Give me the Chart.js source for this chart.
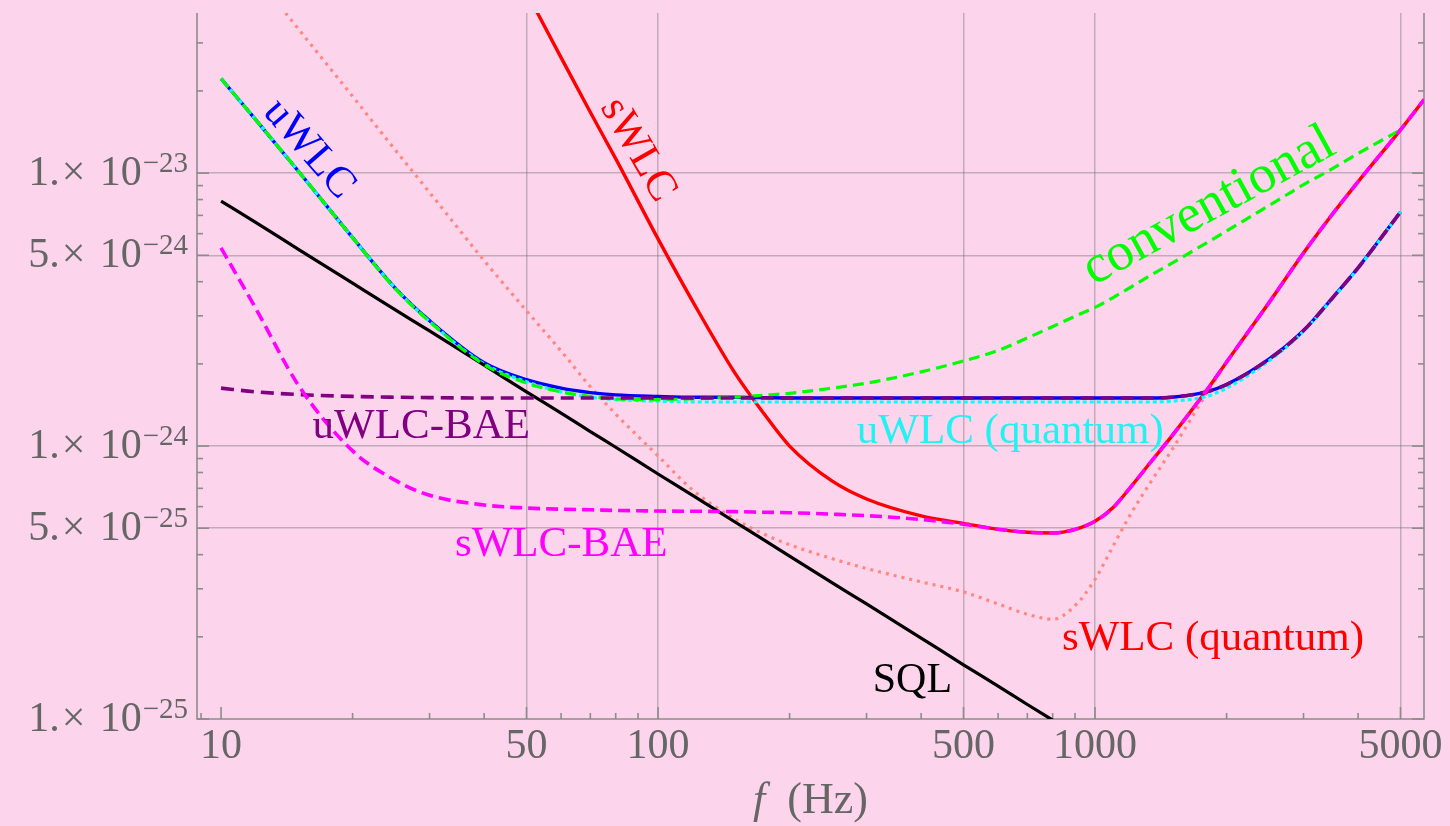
<!DOCTYPE html>
<html>
<head>
<meta charset="utf-8">
<script src="https://cdn.jsdelivr.net/npm/chart.js@4.4.1/dist/chart.umd.min.js"></script>
<style>
  html, body { margin: 0; padding: 0; background: #fcd5ec; }
  canvas { display: block; }
</style>
</head>
<body>
<canvas id="myChart" width="1450" height="826"></canvas>
<script>
// frequencies (Hz) at which the curves were read
var freqs = [10, 12, 15, 20, 25, 30, 40, 50, 60, 70, 80, 100, 120, 150, 175, 200, 250, 300, 400, 500, 600,
             700, 800, 900, 1000, 1100, 1200, 1350, 1500, 1800, 2000, 2500, 3000, 3500, 4000, 5000, 5663];

var uwlc = [2.22e-23, 1.57e-23, 1.02e-23, 5.8e-24, 3.8e-24, 2.88e-24, 2.02e-24, 1.75e-24, 1.63e-24, 1.57e-24,
            1.54e-24, 1.52e-24, 1.51e-24, 1.51e-24, 1.505e-24, 1.50e-24, 1.50e-24, 1.50e-24, 1.50e-24, 1.50e-24,
            1.50e-24, 1.50e-24, 1.50e-24, 1.50e-24, 1.50e-24, 1.50e-24, 1.50e-24, 1.50e-24, 1.51e-24, 1.58e-24,
            1.68e-24, 2.08e-24, 2.65e-24, 3.5e-24, 4.5e-24, 7.2e-24, null];

var uwlcQuantum = [2.22e-23, 1.57e-23, 1.02e-23, 5.8e-24, 3.8e-24, 2.86e-24, 2.0e-24, 1.72e-24, 1.58e-24, 1.51e-24,
                   1.48e-24, 1.46e-24, 1.45e-24, 1.45e-24, 1.45e-24, 1.45e-24, 1.45e-24, 1.45e-24, 1.45e-24, 1.45e-24,
                   1.45e-24, 1.45e-24, 1.45e-24, 1.45e-24, 1.45e-24, 1.45e-24, 1.45e-24, 1.45e-24, 1.46e-24, 1.52e-24,
                   1.63e-24, 2.05e-24, 2.63e-24, 3.48e-24, 4.48e-24, 7.2e-24, null];

var conventional = [2.22e-23, 1.57e-23, 1.02e-23, 5.8e-24, 3.78e-24, 2.86e-24, 1.99e-24, 1.70e-24, 1.58e-24, 1.52e-24,
                    1.49e-24, 1.48e-24, 1.49e-24, 1.51e-24, 1.535e-24, 1.56e-24, 1.63e-24, 1.70e-24, 1.87e-24, 2.05e-24,
                    2.24e-24, 2.49e-24, 2.74e-24, 2.99e-24, 3.22e-24, 3.5e-24, 3.8e-24, 4.25e-24, 4.68e-24, 5.55e-24,
                    6.14e-24, 7.6e-24, 9.07e-24, 1.04e-23, 1.18e-23, 1.44e-23, null];

var uwlcBae = [1.63e-24, 1.58e-24, 1.545e-24, 1.52e-24, 1.51e-24, 1.505e-24, 1.50e-24, 1.50e-24, 1.50e-24, 1.50e-24,
               1.50e-24, 1.50e-24, 1.50e-24, 1.50e-24, 1.50e-24, 1.50e-24, 1.50e-24, 1.50e-24, 1.50e-24, 1.50e-24,
               1.50e-24, 1.50e-24, 1.50e-24, 1.50e-24, 1.50e-24, 1.50e-24, 1.50e-24, 1.50e-24, 1.51e-24, 1.58e-24,
               1.68e-24, 2.08e-24, 2.65e-24, 3.5e-24, 4.5e-24, 7.2e-24, null];

var swlc = [null, null, null, null, null, null, null, 4.6e-23, 2.65e-23, 1.67e-23,
            1.13e-23, 5.74e-24, 3.39e-24, 1.85e-24, 1.31e-24, 1.0e-24, 7.45e-25, 6.4e-25, 5.55e-25, 5.21e-25,
            4.95e-25, 4.83e-25, 4.8e-25, 4.95e-25, 5.3e-25, 5.95e-25, 7.0e-25, 8.85e-25, 1.09e-24, 1.6e-24,
            2.03e-24, 3.35e-24, 5.1e-24, 7.1e-24, 9.3e-24, 1.44e-23, 1.86e-23];

var swlcBae = [5.32e-24, 3.2e-24, 1.68e-24, 9.6e-25, 7.5e-25, 6.6e-25, 6.08e-25, 5.93e-25, 5.87e-25, 5.84e-25,
               5.81e-25, 5.78e-25, 5.77e-25, 5.75e-25, 5.72e-25, 5.7e-25, 5.63e-25, 5.56e-25, 5.38e-25, 5.17e-25,
               4.96e-25, 4.83e-25, 4.8e-25, 4.95e-25, 5.3e-25, 5.95e-25, 7.0e-25, 8.85e-25, 1.09e-24, 1.6e-24,
               2.03e-24, 3.35e-24, 5.1e-24, 7.1e-24, 9.3e-24, 1.44e-23, 1.86e-23];

var swlcQuantum = [null, 5.3e-23, 3.39e-23, 1.91e-23, 1.22e-23, 8.5e-24, 4.78e-24, 3.13e-24, 2.23e-24, 1.65e-24,
                   1.31e-24, 9.2e-25, 6.9e-25, 5.4e-25, 4.75e-25, 4.35e-25, 3.87e-25, 3.56e-25, 3.18e-25, 2.92e-25,
                   2.64e-25, 2.42e-25, 2.32e-25, 2.6e-25, 3.25e-25, 4.3e-25, 5.55e-25, 7.5e-25, 9.7e-25, 1.56e-24,
                   2.03e-24, 3.35e-24, 5.1e-24, 7.1e-24, 9.3e-24, 1.44e-23, 1.86e-23];

var sql = [7.9e-24, 6.6e-24, 5.27e-24, 3.95e-24, 3.16e-24, 2.64e-24, 1.98e-24, 1.58e-24, 1.32e-24, 1.13e-24,
           9.9e-25, 7.9e-25, 6.6e-25, 5.27e-25, 4.52e-25, 3.95e-25, 3.16e-25, 2.64e-25, 1.98e-25, 1.58e-25,
           1.32e-25, 1.13e-25, 9.9e-26, null, null, null, null, null, null, null,
           null, null, null, null, null, null, null];

// axis ticks
var xTickLabels = [10, 50, 100, 500, 1000, 5000];
var xMinorTicks = [9, 20, 30, 40, 60, 70, 80, 90, 200, 300, 400, 600, 700, 800, 900, 2000, 3000, 4000];
var xGridLines = [50, 100, 500, 1000, 5000];
var yTickLabels = [1e-23, 5e-24, 1e-24, 5e-25, 1e-25];
var yMinorTicks = [2e-25, 3e-25, 4e-25, 6e-25, 7e-25, 8e-25, 9e-25, 2e-24, 3e-24, 4e-24, 6e-24, 7e-24, 8e-24, 9e-24, 2e-23, 3e-23];
var yGridLines = [5e-25, 1e-24, 5e-24, 1e-23];

// curve labels, placed at (f, value)
var notes = [
  { text: 'uWLC', f: 15.2, v: 1.15e-23, angle: 49, color: '#0000ff', size: 43, align: 'center' },
  { text: 'sWLC', f: 85.4, v: 1.16e-23, angle: 60, color: '#ff0000', size: 43, align: 'center' },
  { text: 'conventional', f: 1890, v: 6.79e-24, angle: -28.6, color: '#00ff00', size: 54, align: 'center' },
  { text: 'uWLC-BAE', f: 16.2, v: 1.07e-24, angle: 0, color: '#800080', size: 43, align: 'left' },
  { text: 'sWLC-BAE', f: 34.3, v: 3.95e-25, angle: 0, color: '#ff00ff', size: 43, align: 'left' },
  { text: 'uWLC (quantum)', f: 285, v: 1.03e-24, angle: 0, color: '#22f2f2', size: 43, align: 'left' },
  { text: 'sWLC (quantum)', f: 840, v: 1.79e-25, angle: 0, color: '#ff0000', size: 43, align: 'left' },
  { text: 'SQL', f: 310, v: 1.26e-25, angle: 0, color: '#000000', size: 42, align: 'left' }
];

var serif = '"Liberation Serif", "DejaVu Serif", serif';
var axisColor = '#8c8c8c';
var labelColor = '#666666';

function pts(arr) {
  return freqs.map(function (f, i) { return { x: f, y: arr[i] }; });
}

var framePlugin = {
  id: 'frame',
  beforeDatasetsDraw: function (chart) {
    var ctx = chart.ctx, a = chart.chartArea, xs = chart.scales.x, ys = chart.scales.y;
    ctx.save();
    ctx.strokeStyle = axisColor;
    ctx.lineWidth = 1.6;
    ctx.beginPath();
    ctx.moveTo(a.left, a.top);
    ctx.lineTo(a.left, a.bottom);
    ctx.lineTo(a.right, a.bottom);
    ctx.lineTo(a.right, a.top);
    ctx.stroke();
    function seg(x1, y1, x2, y2) { ctx.beginPath(); ctx.moveTo(x1, y1); ctx.lineTo(x2, y2); ctx.stroke(); }
    xTickLabels.forEach(function (v) { var p = xs.getPixelForValue(v); seg(p, a.bottom, p, a.bottom - 12); });
    xMinorTicks.forEach(function (v) { var p = xs.getPixelForValue(v); seg(p, a.bottom, p, a.bottom - 6); });
    yTickLabels.forEach(function (v) {
      var p = ys.getPixelForValue(v);
      seg(a.left, p, a.left + 12, p); seg(a.right, p, a.right - 12, p);
    });
    yMinorTicks.forEach(function (v) {
      var p = ys.getPixelForValue(v);
      seg(a.left, p, a.left + 6, p); seg(a.right, p, a.right - 6, p);
    });
    ctx.restore();
  },
  afterDatasetsDraw: function (chart) {
    var ctx = chart.ctx, a = chart.chartArea, xs = chart.scales.x, ys = chart.scales.y;
    ctx.save();
    ctx.fillStyle = labelColor;
    ctx.textBaseline = 'alphabetic';

    // x tick labels
    ctx.font = '42px ' + serif;
    ctx.textAlign = 'center';
    xTickLabels.forEach(function (v) {
      ctx.fillText(String(v), xs.getPixelForValue(v), a.bottom + 39);
    });

    // y tick labels like 1.x10^-23
    yTickLabels.forEach(function (v) {
      var py = ys.getPixelForValue(v);
      var parts = v.toExponential().split('e');
      var exp = '\u2212' + parts[1].replace('-', '');
      var supRight = a.left - 9;
      ctx.textAlign = 'right';
      ctx.font = '29px ' + serif;
      ctx.fillText(exp, supRight, py - 1);
      var supW = ctx.measureText(exp).width;
      ctx.font = '42px ' + serif;
      var tenRight = supRight - supW - 1;
      ctx.fillText('10', tenRight, py + 12);
      var tenLeft = tenRight - ctx.measureText('10').width;
      ctx.textAlign = 'center';
      ctx.fillText('\u00d7', tenLeft - 26, py + 12);
      ctx.textAlign = 'right';
      ctx.fillText(parts[0] + '.', tenLeft - 40, py + 12);
    });

    // x axis title
    ctx.textAlign = 'left';
    ctx.font = 'italic 44px ' + serif;
    var wf = ctx.measureText('f').width;
    ctx.font = '44px ' + serif;
    var wr = ctx.measureText('(Hz)').width;
    var gap = 22;
    var start = (a.left + a.right) / 2 - (wf + gap + wr) / 2;
    ctx.font = 'italic 44px ' + serif;
    ctx.fillText('f', start, a.bottom + 94);
    ctx.font = '44px ' + serif;
    ctx.fillText('(Hz)', start + wf + gap, a.bottom + 94);

    // curve labels
    notes.forEach(function (n) {
      ctx.save();
      ctx.translate(xs.getPixelForValue(n.f), ys.getPixelForValue(n.v));
      ctx.rotate(n.angle * Math.PI / 180);
      ctx.font = n.size + 'px ' + serif;
      ctx.fillStyle = n.color;
      ctx.textAlign = n.align;
      ctx.fillText(n.text, 0, 0);
      ctx.restore();
    });
    ctx.restore();
  }
};

function line(label, arr, color, width, dash) {
  return {
    label: label,
    data: pts(arr),
    borderColor: color,
    backgroundColor: color,
    borderWidth: width,
    borderDash: dash,
    fill: false,
    pointRadius: 0,
    cubicInterpolationMode: 'monotone',
    capBezierPoints: false
  };
}

var ctx = document.getElementById('myChart').getContext('2d');
var myChart = new Chart(ctx, {
  type: 'line',
  data: {
    datasets: [
      line('sWLC-BAE', swlcBae, '#ff00ff', 3.6, [12, 6]),
      line('uWLC-BAE', uwlcBae, '#800080', 3.6, [13, 7]),
      line('conventional', conventional, '#00ff00', 3.2, [11, 6]),
      line('SQL', sql, '#000000', 3.2, []),
      line('uWLC (quantum)', uwlcQuantum, '#00ffff', 3.2, [4, 3]),
      line('uWLC', uwlc, '#0000ff', 3.4, []),
      line('sWLC', swlc, '#ff0000', 3.4, []),
      line('sWLC (quantum)', swlcQuantum, 'rgb(255,135,125)', 3.2, [3, 5])
    ]
  },
  options: {
    responsive: false,
    devicePixelRatio: 1,
    animation: false,
    layout: { padding: { left: 197, right: 26, top: 13, bottom: 107 } },
    plugins: {
      legend: { display: false },
      tooltip: { enabled: false }
    },
    scales: {
      x: {
        type: 'logarithmic',
        min: 8.81,
        max: 5660,
        ticks: { display: false },
        border: { display: false },
        grid: { color: 'rgba(100,100,100,0.38)', lineWidth: 1.5, drawTicks: false },
        afterBuildTicks: function (s) { s.ticks = xGridLines.map(function (v) { return { value: v }; }); }
      },
      y: {
        type: 'logarithmic',
        min: 1e-25,
        max: 3.86e-23,
        ticks: { display: false },
        border: { display: false },
        grid: { color: 'rgba(100,100,100,0.38)', lineWidth: 1.5, drawTicks: false },
        afterBuildTicks: function (s) { s.ticks = yGridLines.map(function (v) { return { value: v }; }); }
      }
    }
  },
  plugins: [framePlugin]
});
</script>
</body>
</html>
